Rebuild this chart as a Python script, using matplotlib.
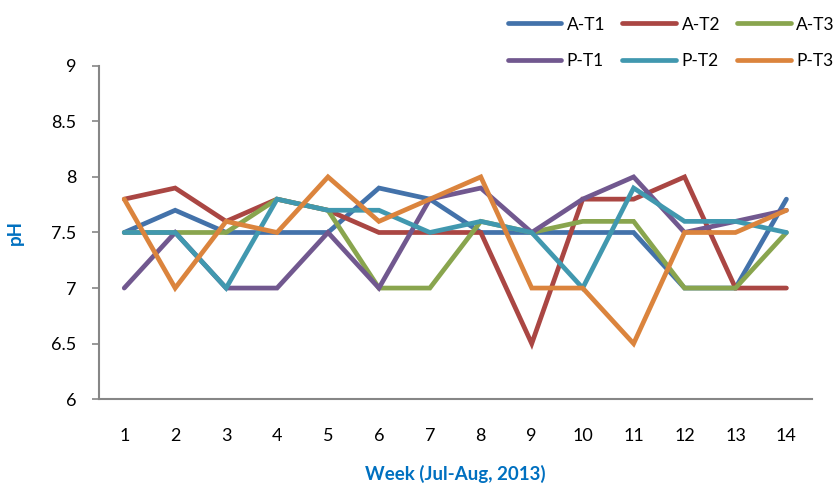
import matplotlib
matplotlib.use("Agg")
import matplotlib.pyplot as plt

weeks = list(range(1, 15))
a_t1 = [7.5, 7.7, 7.5, 7.5, 7.5, 7.9, 7.8, 7.5, 7.5, 7.5, 7.5, 7.0, 7.0, 7.8]
a_t2 = [7.8, 7.9, 7.6, 7.8, 7.7, 7.5, 7.5, 7.5, 6.5, 7.8, 7.8, 8.0, 7.0, 7.0]
a_t3 = [7.5, 7.5, 7.5, 7.8, 7.7, 7.0, 7.0, 7.6, 7.5, 7.6, 7.6, 7.0, 7.0, 7.5]
p_t1 = [7.0, 7.5, 7.0, 7.0, 7.5, 7.0, 7.8, 7.9, 7.5, 7.8, 8.0, 7.5, 7.6, 7.7]
p_t2 = [7.5, 7.5, 7.0, 7.8, 7.7, 7.7, 7.5, 7.6, 7.5, 7.0, 7.9, 7.6, 7.6, 7.5]
p_t3 = [7.8, 7.0, 7.6, 7.5, 8.0, 7.6, 7.8, 8.0, 7.0, 7.0, 6.5, 7.5, 7.5, 7.7]

series = [("A-T1", a_t1, "#4372AA"), ("A-T2", a_t2, "#AA4643"),
          ("A-T3", a_t3, "#89A54E"), ("P-T1", p_t1, "#71588F"),
          ("P-T2", p_t2, "#4198AF"), ("P-T3", p_t3, "#DB843D")]

plt.rcParams['font.family'] = ['Lato', 'DejaVu Sans']

fig = plt.figure(figsize=(8.37, 4.91), dpi=100)
ax = fig.add_axes([0.118, 0.187, 0.852, 0.679])

lines = {}
for name, vals, col in series:
    ln, = ax.plot(weeks, vals, color=col, linewidth=3.4,
                  solid_capstyle='round', solid_joinstyle='miter', label=name)
    lines[name] = ln

ax.set_xlim(0.5, 14.5)
ax.set_ylim(6, 9)
ax.set_xticks(weeks)
ax.set_yticks([6, 6.5, 7, 7.5, 8, 8.5, 9])
ax.set_yticklabels(["6", "6.5", "7", "7.5", "8", "8.5", "9"])
ax.tick_params(axis='y', direction='out', length=5, width=1.2,
               color='#868686', pad=11, labelsize=13)
ax.tick_params(axis='x', length=0, pad=21, labelsize=13)
for s in ['top', 'right']:
    ax.spines[s].set_visible(False)
for s in ['left', 'bottom']:
    ax.spines[s].set_color('#868686')
    ax.spines[s].set_linewidth(1.5)

ax.set_ylabel("pH", color='#0070C0', fontweight='bold', fontsize=13.5, labelpad=20)
ax.set_xlabel("Week (Jul-Aug, 2013)", color='#0070C0', fontweight='bold',
              fontsize=13.5, labelpad=15)

order = ["A-T1", "P-T1", "A-T2", "P-T2", "A-T3", "P-T3"]
fig.legend([lines[n] for n in order], order, ncol=3, frameon=False,
           loc='upper right', bbox_to_anchor=(1.008, 0.984), fontsize=12.5,
           handlelength=3.1, handletextpad=0.3, columnspacing=1.0,
           labelspacing=1.2, borderpad=0)

fig.savefig("out.png", dpi=100)
